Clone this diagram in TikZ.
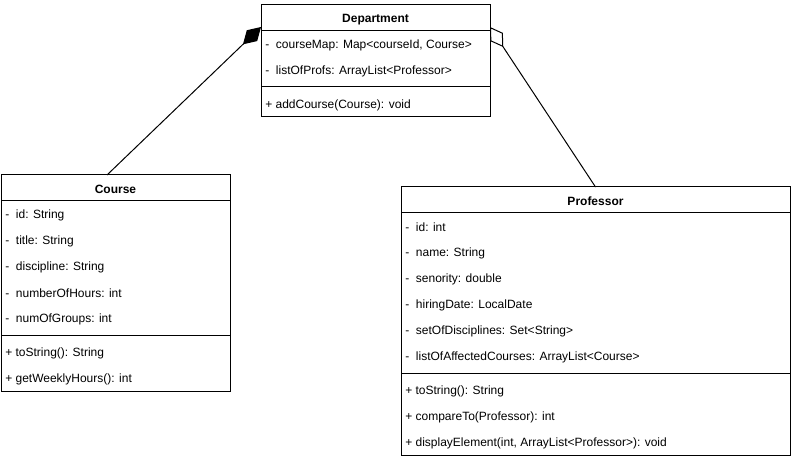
\documentclass[tikz,border=0pt]{standalone}
\usepackage{fontspec}
\setmainfont{Liberation Sans}
\usetikzlibrary{arrows.meta,calc}

\tikzset{
  classbox/.style={draw=black, line width=0.75pt, fill=white, inner sep=0pt, outer sep=0pt, rectangle},
  classname/.style={font=\fontsize{9}{11}\selectfont\bfseries, inner sep=0pt, yshift=-1.2pt},
  member/.style={font=\fontsize{9}{11}\selectfont, anchor=west, inner sep=0pt, yshift=-1.2pt},
  divider/.style={draw=black, line width=0.75pt},
  composition/.style={draw=black, line width=0.75pt,
    -{Diamond[length=18.75pt, width=11.25pt, fill=black]}},
  aggregation/.style={draw=black, line width=0.75pt,
    -{Diamond[open, length=18pt, width=11.25pt, fill=white]}}
}

\begin{document}
\begin{tikzpicture}[x=0.75pt, y=-0.75pt]
\useasboundingbox (0,0) rectangle (791,459);

% ---- Department ----
\node[classbox, minimum width=171.75pt, minimum height=84pt] (dept) at (375.5,61) {};
\node[classname] (deptname) at (375.5,18) {Department};
\draw[divider] (dept.west |- 0,31) -- (dept.east |- 0,31);
\node[member] (deptA1) at (265,44) {-\ \ courseMap: Map<courseId, Course>};
\node[member] (deptA2) at (265,70) {-\ \ listOfProfs: ArrayList<Professor>};
\draw[divider] (dept.west |- 0,87) -- (dept.east |- 0,87);
\node[member] (deptM1) at (265,104) {+ addCourse(Course): void};

% ---- Course ----
\node[classbox, minimum width=171.75pt, minimum height=162pt] (course) at (115.5,283) {};
\node[classname] (coursename) at (115.5,188) {Course};
\draw[divider] (course.west |- 0,201) -- (course.east |- 0,201);
\node[member] (courseA1) at (5,214) {-\ \ id: String};
\node[member] (courseA2) at (5,240) {-\ \ title: String};
\node[member] (courseA3) at (5,266) {-\ \ discipline: String};
\node[member] (courseA4) at (5,292) {-\ \ numberOfHours: int};
\node[member] (courseA5) at (5,318) {-\ \ numOfGroups: int};
\draw[divider] (course.west |- 0,335) -- (course.east |- 0,335);
\node[member] (courseM1) at (5,352) {+ toString(): String};
\node[member] (courseM2) at (5,378) {+ getWeeklyHours(): int};

% ---- Professor ----
\node[classbox, minimum width=291.75pt, minimum height=201pt] (prof) at (595.5,321) {};
\node[classname] (profname) at (595.5,200) {Professor};
\draw[divider] (prof.west |- 0,213) -- (prof.east |- 0,213);
\node[member] (profA1) at (405,226) {-\ \ id: int};
\node[member] (profA2) at (405,252) {-\ \ name: String};
\node[member] (profA3) at (405,278) {-\ \ senority: double};
\node[member] (profA4) at (405,304) {-\ \ hiringDate: LocalDate};
\node[member] (profA5) at (405,330) {-\ \ setOfDisciplines: Set<String>};
\node[member] (profA6) at (405,356) {-\ \ listOfAffectedCourses: ArrayList<Course>};
\draw[divider] (prof.west |- 0,373) -- (prof.east |- 0,373);
\node[member] (profM1) at (405,390) {+ toString(): String};
\node[member] (profM2) at (405,416) {+ compareTo(Professor): int};
\node[member] (profM3) at (405,442) {+ displayElement(int, ArrayList<Professor>): void};

% ---- Associations ----
\draw[composition] ($(course.north)+(-8.5,0)$) -- ($(dept.north west)+(0,22)$);
\draw[aggregation] (prof.north) -- ($(dept.north east)+(0,22)$);
\end{tikzpicture}
\end{document}
